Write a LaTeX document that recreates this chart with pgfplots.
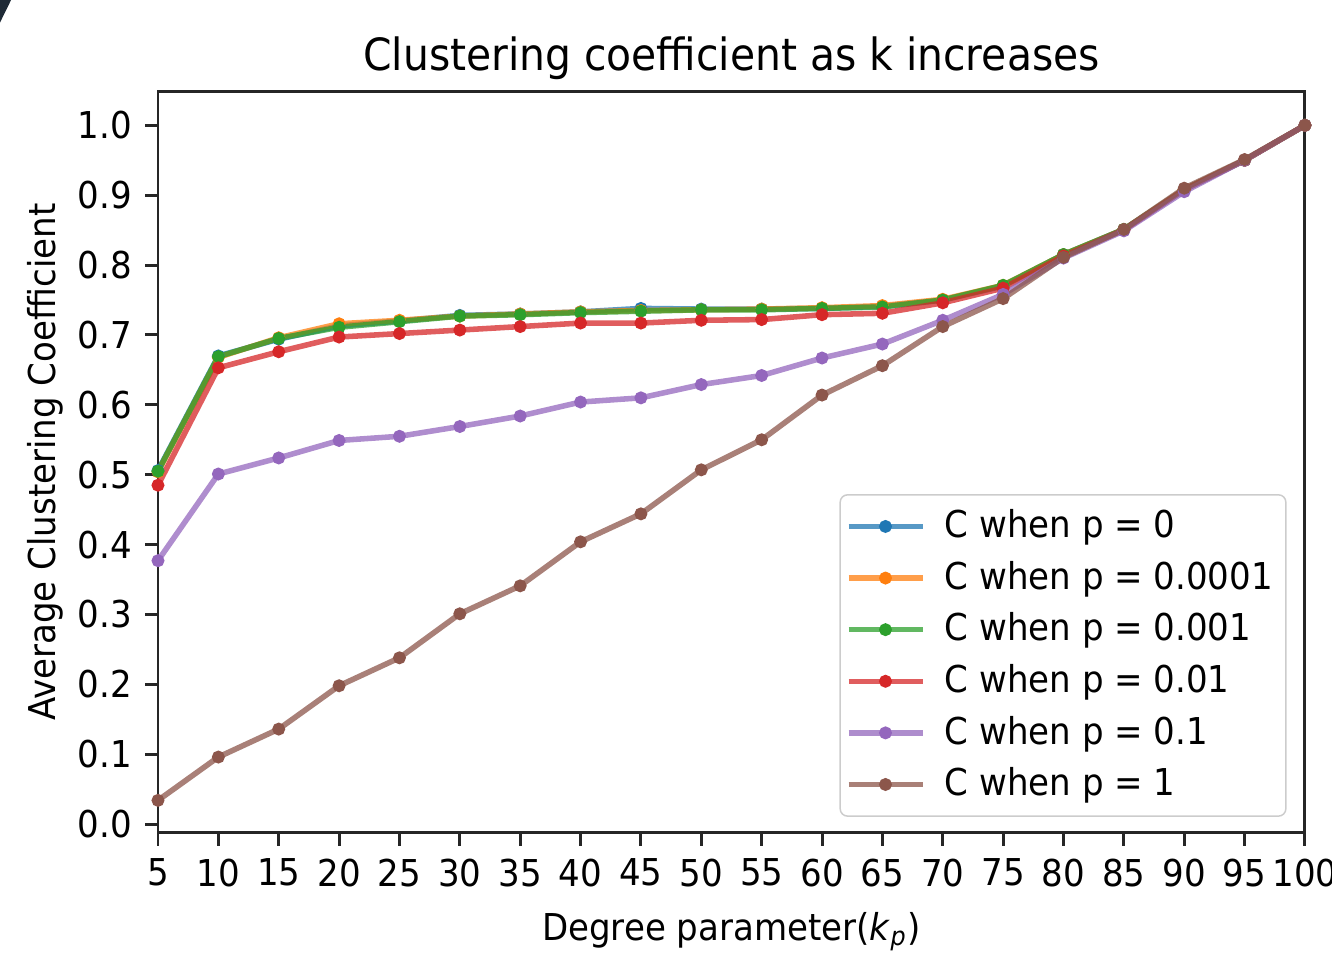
\documentclass[border=0pt]{standalone}
\usepackage{pgfplots}
\pgfplotsset{compat=1.18}
\usepackage{pgfplotstable}
\usepackage{fontspec}
\setmainfont{DejaVu Sans}[FakeStretch=0.92]
\definecolor{tabblue}{HTML}{1F77B4}
\definecolor{taborange}{HTML}{FF7F0E}
\definecolor{tabgreen}{HTML}{2CA02C}
\definecolor{tabred}{HTML}{D62728}
\definecolor{tabpurple}{HTML}{9467BD}
\definecolor{tabbrown}{HTML}{8C564B}
\definecolor{spine}{HTML}{262626}
\definecolor{corner}{HTML}{1E2A36}

\pgfplotstableread{
k   pa    pb    pc    pd    pe    pf
5   0.506 0.504 0.505 0.485 0.377 0.034
10  0.670 0.668 0.669 0.653 0.501 0.096
15  0.694 0.696 0.695 0.676 0.524 0.136
20  0.713 0.716 0.711 0.697 0.549 0.198
25  0.720 0.721 0.719 0.702 0.555 0.238
30  0.728 0.727 0.727 0.707 0.569 0.301
35  0.730 0.730 0.729 0.712 0.584 0.341
40  0.733 0.733 0.732 0.717 0.604 0.404
45  0.738 0.735 0.734 0.717 0.610 0.444
50  0.737 0.736 0.736 0.721 0.629 0.507
55  0.737 0.737 0.736 0.722 0.642 0.550
60  0.738 0.739 0.738 0.729 0.667 0.614
65  0.741 0.742 0.740 0.731 0.687 0.656
70  0.750 0.751 0.750 0.746 0.721 0.712
75  0.770 0.771 0.771 0.767 0.758 0.752
80  0.815 0.815 0.815 0.813 0.810 0.811
85  0.851 0.851 0.851 0.850 0.849 0.851
90  0.908 0.908 0.908 0.908 0.905 0.910
95  0.950 0.950 0.950 0.950 0.950 0.951
100 1.000 1.000 1.000 1.000 1.000 1.000
}\cdata

\begin{document}
\begin{tikzpicture}
\useasboundingbox (0,0) rectangle (360pt,258.1pt);
\fill[fill=corner] (0,258.1pt) -- (3pt,258.1pt) -- (0,252pt) -- cycle;
\begin{axis}[
  at={(42.7pt,33pt)}, anchor=south west,
  scale only axis, width=310pt, height=200.3pt,
  xmin=5, xmax=100, ymin=-0.0125, ymax=1.048,
  xtick={5,10,15,20,25,30,35,40,45,50,55,60,65,70,75,80,85,90,95,100},
  ytick={0,0.1,0.2,0.3,0.4,0.5,0.6,0.7,0.8,0.9,1.0},
  yticklabel style={/pgf/number format/.cd, fixed, fixed zerofill, precision=1},
  /pgf/number format/assume math mode=true,
  tick align=outside, major tick length=3.5pt,
  tick style={spine, line width=0.8pt},
  xtick pos=bottom, ytick pos=left,
  axis line style={spine, line width=0.8pt},
  ticklabel style={font=\fontsize{10}{12}\selectfont},
  label style={font=\fontsize{10}{12}\selectfont},
  ylabel style={xshift=0pt, yshift=-3pt},
  title={Clustering coefficient as k increases},
  title style={font=\fontsize{12}{14}\selectfont, at={(0.5,1)}, anchor=south, yshift=-6.4pt},
  xlabel={Degree parameter(\textit{k}\textsubscript{\textit{p}})},
  ylabel={Average Clustering Coefficient},
  legend cell align=left,
  legend style={at={(0.984,0.0216)}, anchor=south east, draw=black!20, rounded corners=2pt,
    fill=white, fill opacity=0.8, text opacity=1, font=\fontsize{10}{12}\selectfont,
    row sep=0.85pt, inner xsep=1.5pt, inner ysep=2pt},
  legend image code/.code={\draw[mark repeat=2, mark phase=2, #1] plot coordinates {(0pt,0pt) (10pt,0pt) (20pt,0pt)}; \path[draw=none, fill=none] (0pt,0pt) -- (24pt,0pt);},
  every axis plot/.append style={line width=1.5pt, draw opacity=0.75, mark=*, mark size=1.5pt, mark options={draw opacity=1, fill opacity=1, line width=0.5pt}},
]
\addplot[color=tabblue] table[x=k, y=pa] {\cdata};
\addlegendentry{C when p = 0}
\addplot[color=taborange] table[x=k, y=pb] {\cdata};
\addlegendentry{C when p = 0.0001}
\addplot[color=tabgreen] table[x=k, y=pc] {\cdata};
\addlegendentry{C when p = 0.001}
\addplot[color=tabred] table[x=k, y=pd] {\cdata};
\addlegendentry{C when p = 0.01}
\addplot[color=tabpurple] table[x=k, y=pe] {\cdata};
\addlegendentry{C when p = 0.1}
\addplot[color=tabbrown] table[x=k, y=pf] {\cdata};
\addlegendentry{C when p = 1}
\end{axis}
\end{tikzpicture}
\end{document}
